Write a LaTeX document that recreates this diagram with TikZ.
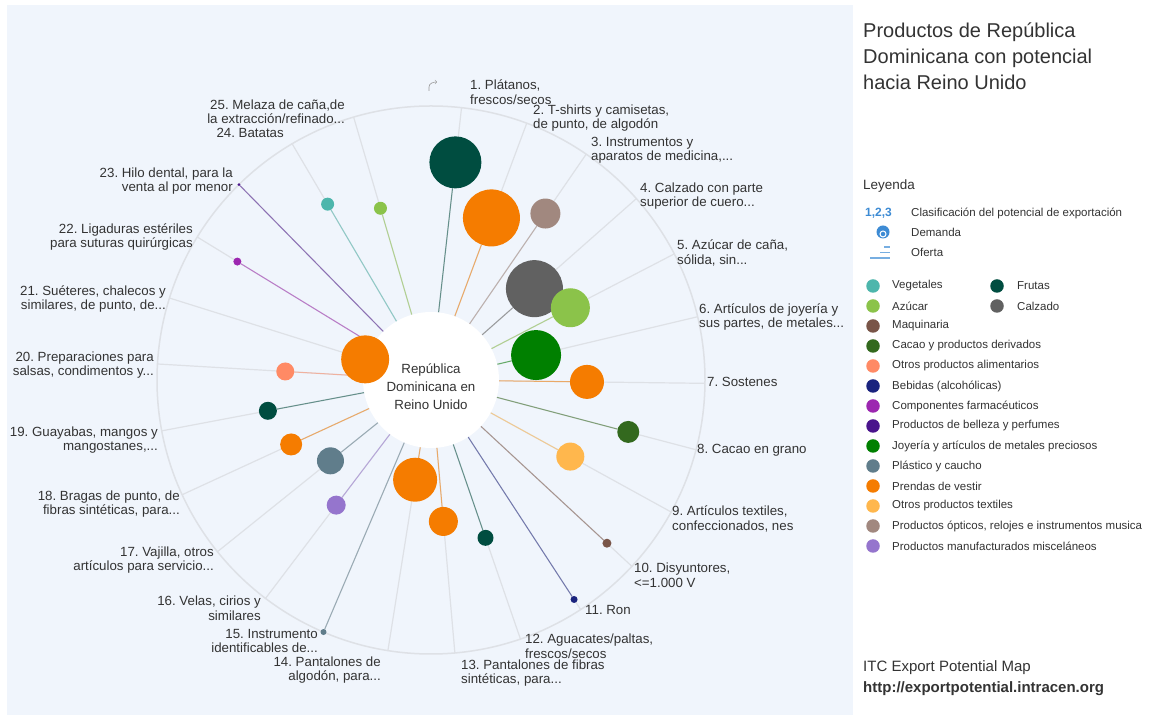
\documentclass[tikz,border=0pt]{standalone}
\usepackage{fontspec}
\setmainfont{Liberation Sans}
\frenchspacing

\definecolor{panel}{RGB}{240,245,252}
\definecolor{rim}{RGB}{222,225,230}
\definecolor{txt}{RGB}{51,51,51}
\definecolor{keyblue}{RGB}{61,139,212}
\definecolor{vegetales}{HTML}{4DB6AC}
\definecolor{frutas}{HTML}{004D40}
\definecolor{azucar}{HTML}{8BC34A}
\definecolor{calzado}{HTML}{616161}
\definecolor{maquinaria}{HTML}{795548}
\definecolor{cacao}{HTML}{33691E}
\definecolor{alimentos}{HTML}{FF8A65}
\definecolor{bebidas}{HTML}{1A237E}
\definecolor{farma}{HTML}{9C27B0}
\definecolor{belleza}{HTML}{4A148C}
\definecolor{joyeria}{HTML}{008000}
\definecolor{plastico}{HTML}{607D8B}
\definecolor{prendas}{HTML}{F57C00}
\definecolor{textiles}{HTML}{FFB74D}
\definecolor{opticos}{HTML}{A1887F}
\definecolor{misc}{HTML}{9575CD}

\tikzset{
  bub/.style={circle, fill=#1, inner sep=0pt},
  link/.style={draw=#1, line width=1pt, draw opacity=.55},
  spoke/.style={draw=rim, line width=1.2pt},
  lab/.style={font=\fontsize{13.3}{14.5}\selectfont, text=txt, inner sep=0pt},
  labr/.style={lab, anchor=west, align=left},
  labl/.style={lab, anchor=east, align=right},
  key/.style={font=\fontsize{11.5}{13}\selectfont, text=txt, anchor=west, inner sep=0pt},
  keydot/.style={circle, fill=#1, minimum size=13.5pt, inner sep=0pt}
}

\begin{document}
\begin{tikzpicture}[x=1pt,y=1pt]
    \useasboundingbox (0,0) rectangle (1149,720);
    \fill[white] (0,0) rectangle (1149,720);
    \fill[panel] (7,5) rectangle (853,715);
    \draw[gray!80, line width=.6pt, ->] (429,629) -- (429,633) to[out=90, in=180] (437,638);

    % radial chart
    \begin{scope}[shift={(431,340)}]
        \draw[rim, line width=1.5pt] (0,0) circle (274);
        \node[circle, fill=white, minimum size=136pt, inner sep=0pt] (hub) at (0,0) {};
        \foreach \k in {1,...,25}
            \coordinate (e\k) at ({83.6-14.05*(\k-1)}:274);
        \foreach \k in {1,...,25}
            \draw[spoke] (hub) -- (e\k);
        \foreach \k/\d/\s/\c in {1/219/52/frutas, 2/173/57/prendas, 3/202/30/opticos,
                4/138/57/calzado, 5/157/39/azucar, 6/108/50/joyeria, 7/156/34/prendas,
                8/204/22/cacao, 9/159/28/textiles, 10/240/9/maquinaria, 11/262/7/bebidas,
                12/167/16/frutas, 13/142/29/prendas, 14/101/44/prendas, 15/274/6/plastico,
                16/157/19/misc, 17/129/27/plastico, 18/154/22/prendas, 19/166/18/frutas,
                20/146/18/alimentos, 22/227/8/farma, 23/274/3/belleza, 24/204/13/vegetales,
                25/179/13/azucar}{
            \node[bub=\c, minimum size=\s pt] (b\k) at ({83.6-14.05*(\k-1)}:\d) {};
            \draw[link=\c] (hub) -- (b\k);
        }
        \node[bub=prendas, minimum size=48pt] (b21) at ({83.6-14.05*20}:69) {};
        \node[font=\fontsize{13.3}{18}\selectfont, text=txt, align=center] (hubtxt) at (0,-7)
            {República\\Dominicana en\\Reino Unido};
    \end{scope}

    % product labels
    \node[labr] (l1) at (470,628) {1. Plátanos,\\frescos/secos};
    \node[labr] (l2) at (533,602) {2. T-shirts y camisetas,\\de punto, de algodón};
    \node[labr] (l3) at (591,570) {3. Instrumentos y\\aparatos de medicina,...};
    \node[labr] (l4) at (640,524) {4. Calzado con parte\\superior de cuero...};
    \node[labr] (l5) at (677,467) {5. Azúcar de caña,\\sólida, sin...};
    \node[labr] (l6) at (699,403) {6. Artículos de joyería y\\sus partes, de metales...};
    \node[labr] (l7) at (707,338) {7. Sostenes};
    \node[labr] (l8) at (697,270) {8. Cacao en grano};
    \node[labr] (l9) at (672,201) {9. Artículos textiles,\\confeccionados, nes};
    \node[labr] (l10) at (634,145) {10. Disyuntores,\\<=1.000 V};
    \node[labr] (l11) at (585,110) {11. Ron};
    \node[labr] (l12) at (525,74) {12. Aguacates/paltas,\\frescos/secos};
    \node[labr] (l13) at (461,47) {13. Pantalones de fibras\\sintéticas, para...};
    \node[labl] (l14) at (381,50) {14. Pantalones de\\algodón, para...};
    \node[labl] (l15) at (318,79) {15. Instrumento\\identificables de...};
    \node[labl] (l16) at (261,112) {16. Velas, cirios y\\similares};
    \node[labl] (l17) at (214,160) {17. Vajilla, otros\\artículos para servicio...};
    \node[labl] (l18) at (180,216) {18. Bragas de punto, de\\fibras sintéticas, para...};
    \node[labl] (l19) at (158,280) {19. Guayabas, mangos y\\mangostanes,...};
    \node[labl] (l20) at (154,355) {20. Preparaciones para\\salsas, condimentos y...};
    \node[labl] (l21) at (166,421) {21. Suéteres, chalecos y\\similares, de punto, de...};
    \node[labl] (l22) at (193,483) {22. Ligaduras estériles\\para suturas quirúrgicas};
    \node[labl] (l23) at (233,539) {23. Hilo dental, para la\\venta al por menor};
    \node[labl] (l24) at (284,587) {24. Batatas};
    \node[labl] (l25) at (345,608) {25. Melaza de caña,de\\la extracción/refinado...};

    % title and legend
    \node[font=\fontsize{20}{26}\selectfont, text=txt, anchor=west, align=left, inner sep=0pt] (title)
        at (863,664) {Productos de República\\Dominicana con potencial\\hacia Reino Unido};
    \node[key, font=\fontsize{13.5}{15}\selectfont] (leyenda) at (863,534) {Leyenda};
    \node[key, font=\bfseries\fontsize{12}{14}\selectfont, text=keyblue] (rank) at (865,507) {1,2,3};
    \node[key] (rankt) at (911,507) {Clasificación del potencial de exportación};
    \fill[keyblue] (883,488) circle (6.5);
    \draw[white, line width=1pt] (883,486) circle (3);
    \fill[keyblue] (883,486) circle (1.6);
    \node[key] (demt) at (911,488) {Demanda};
    \draw[keyblue!70, line width=1.8pt] (870,462) -- (890,462) (880,467.5) -- (890,467.5) (884,473) -- (890,473);
    \node[key] (oft) at (911,468) {Oferta};
    \foreach \i/\c/\t in {0/vegetales/Vegetales, 1/azucar/Azúcar, 2/maquinaria/Maquinaria,
            3/cacao/Cacao y productos derivados, 4/alimentos/Otros productos alimentarios,
            5/bebidas/Bebidas (alcohólicas), 6/farma/Componentes farmacéuticos,
            7/belleza/Productos de belleza y perfumes,
            8/joyeria/Joyería y artículos de metales preciosos, 9/plastico/Plástico y caucho,
            10/prendas/Prendas de vestir, 11/textiles/Otros productos textiles,
            12/opticos/{Productos ópticos, relojes e instrumentos musica},
            13/misc/Productos manufacturados misceláneos}{
        \node[keydot=\c] (k\i) at (873,434-20*\i) {};
        \node[key] (kt\i) at (892,434-20*\i) {\t};
    }
    \node[keydot=frutas] (kfr) at (997,434) {};
    \node[key] (ktfr) at (1017,434) {Frutas};
    \node[keydot=calzado] (kca) at (997,414) {};
    \node[key] (ktca) at (1017,414) {Calzado};

    % source
    \node[key, font=\fontsize{15}{17}\selectfont] (src) at (863,52) {ITC Export Potential Map};
    \node[key, font=\bfseries\fontsize{15}{17}\selectfont] (url) at (863,31) {http://exportpotential.intracen.org};
\end{tikzpicture}
\end{document}
